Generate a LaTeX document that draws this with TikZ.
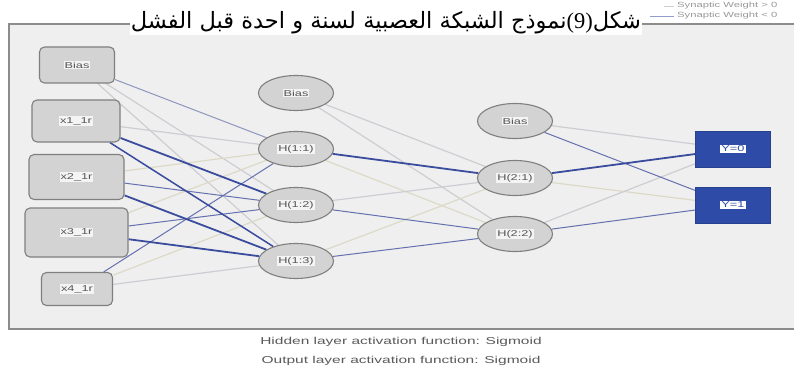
\documentclass[tikz,border=0pt]{standalone}
\usepackage{graphicx}
\usepackage{fontspec}
\setmainfont{Liberation Sans}
\newfontfamily\arabicfont[Script=Arabic]{DejaVu Sans}
\newfontfamily\numfont{Liberation Serif}
\TeXXeTstate=1
\usetikzlibrary{shapes.geometric}
\pgfdeclarelayer{panel}
\pgfdeclarelayer{edges}
\pgfsetlayers{panel,edges,main}
\definecolor{panelbg}{HTML}{EFEFEF}
\definecolor{panelline}{HTML}{8C8C8C}
\definecolor{nodefill}{HTML}{D3D3D3}
\definecolor{nodeline}{HTML}{7F7F7F}
\definecolor{outfill}{HTML}{2E4BA8}
\definecolor{wdark}{HTML}{3A4C9E}
\definecolor{wmid}{HTML}{6470B0}
\definecolor{wgray}{HTML}{CDCDD3}
\definecolor{wbeige}{HTML}{DCDAC6}
\definecolor{lbltext}{HTML}{555555}
\definecolor{captext}{HTML}{5A5A5A}
\newcommand\nlbl[1]{{\setlength{\fboxsep}{1pt}\colorbox{white!75!nodefill}{\scalebox{1.5}[1]{\fontsize{8.5}{9}\selectfont\color{lbltext}#1}}}}
\newcommand\olbl[1]{{\setlength{\fboxsep}{1pt}\colorbox{white}{\scalebox{1.5}[1]{\fontsize{8.5}{9}\selectfont\color{outfill}#1}}}}
\tikzset{
  inbox/.style={draw=nodeline, fill=nodefill, rounded corners=5pt, line width=1.1pt, inner sep=0pt},
  hid/.style={ellipse, draw=nodeline, fill=nodefill, line width=1.1pt, minimum width=75pt, minimum height=35pt, inner sep=0pt},
  outbox/.style={draw=outfill!85!black, fill=outfill, line width=0.8pt, minimum width=75pt, minimum height=36pt, inner sep=0pt},
  wdk/.style={draw=wdark, line width=1.8pt},
  wmd/.style={draw=wmid, line width=1pt},
  wgr/.style={draw=wgray, line width=1.2pt},
  wbg/.style={draw=wbeige, line width=1.2pt},
  legtxt/.style={anchor=west, inner sep=0pt, text=gray!80, font=\fontsize{7.5}{8}\selectfont},
  captxt/.style={inner sep=0pt, text=captext, font=\fontsize{10}{11}\selectfont}
}
\begin{document}
\begin{tikzpicture}[x=1pt, y=-1pt]
\useasboundingbox (0,0) rectangle (794,374);
% panel
\begin{pgfonlayer}{panel}
\fill[white] (0,0) rectangle (794,374);
\fill[panelbg] (9,24) rectangle (800,329);
\draw[panelline, line width=1.2pt] (800,24) -- (9,24) -- (9,329) -- (800,329);
\end{pgfonlayer}
% title
\node[fill=white, inner sep=1pt, anchor=base] (title) at (386,29)
  {\arabicfont\fontsize{22.5}{23}\selectfont\beginR شكل\beginL{\numfont(9)}\endL{}نموذج الشبكة العصبية لسنة و احدة قبل الفشل\endR};
% legend
\coordinate (lg1a) at (664,6);
\coordinate (lg1b) at (674,6);
\coordinate (lg2a) at (650,16);
\coordinate (lg2b) at (674,16);
\draw[wgr, line width=0.8pt] (lg1a) -- (lg1b);
\draw[wmid!70, line width=0.8pt] (lg2a) -- (lg2b);
\node[legtxt] (lg1) at (677,6) {\scalebox{1.5}[1]{Synaptic Weight > 0}};
\node[legtxt] (lg2) at (677,16) {\scalebox{1.5}[1]{Synaptic Weight < 0}};
% input layer
\node[inbox, minimum width=75pt, minimum height=36pt] (b0) at (77,65) {\nlbl{Bias}};
\node[inbox, minimum width=88pt, minimum height=42pt] (x1) at (76,121) {\nlbl{x1\_1r}};
\node[inbox, minimum width=95pt, minimum height=45pt] (x2) at (76.5,177) {\nlbl{x2\_1r}};
\node[inbox, minimum width=103pt, minimum height=49pt] (x3) at (76.5,232.5) {\nlbl{x3\_1r}};
\node[inbox, minimum width=71pt, minimum height=33pt] (x4) at (77,289) {\nlbl{x4\_1r}};
% hidden layer 1
\node[hid] (b1) at (296,93) {\nlbl{Bias}};
\node[hid] (h11) at (296,149) {\nlbl{H(1:1)}};
\node[hid] (h12) at (296,205) {\nlbl{H(1:2)}};
\node[hid] (h13) at (296,261) {\nlbl{H(1:3)}};
% hidden layer 2
\node[hid] (b2) at (515,121) {\nlbl{Bias}};
\node[hid] (h21) at (515,178) {\nlbl{H(2:1)}};
\node[hid] (h22) at (515,234) {\nlbl{H(2:2)}};
% output layer
\node[outbox] (y0) at (733,149) {\olbl{Y=0}};
\node[outbox] (y1) at (733,205) {\olbl{Y=1}};
% connections
\begin{pgfonlayer}{edges}
\draw[wgr] (b0) -- (h12);
\draw[wgr] (b0) -- (h13);
\draw[wgr] (x1) -- (h11);
\draw[wbg] (x2) -- (h11);
\draw[wbg] (x3) -- (h11);
\draw[wbg] (x4) -- (h12);
\draw[wgr] (x4) -- (h13);
\draw[wgr] (b1) -- (h21);
\draw[wgr] (b1) -- (h22);
\draw[wbg] (h11) -- (h22);
\draw[wgr] (h12) -- (h21);
\draw[wbg] (h13) -- (h21);
\draw[wgr] (b2) -- (y0);
\draw[wbg] (h21) -- (y1);
\draw[wgr] (h22) -- (y0);
\draw[wmd, draw=wmid!60!wgray] (b0) -- (h11);
\draw[wmd] (x2) -- (h12);
\draw[wmd] (x3) -- (h12);
\draw[wmd] (x4) -- (h11);
\draw[wmd] (h12) -- (h22);
\draw[wmd] (h13) -- (h22);
\draw[wmd] (b2) -- (y1);
\draw[wmd] (h22) -- (y1);
\draw[wdk] (x1) -- (h12);
\draw[wdk, line width=1.5pt] (x1) -- (h13);
\draw[wdk] (x2) -- (h13);
\draw[wdk] (x3) -- (h13);
\draw[wdk] (h11) -- (h21);
\draw[wdk] (h21) -- (y0);
\end{pgfonlayer}
% captions
\node[captxt] (cap1) at (401,342) {\scalebox{1.55}[1]{Hidden layer activation function: Sigmoid}};
\node[captxt] (cap2) at (401,361) {\scalebox{1.55}[1]{Output layer activation function: Sigmoid}};
\end{tikzpicture}
\end{document}
